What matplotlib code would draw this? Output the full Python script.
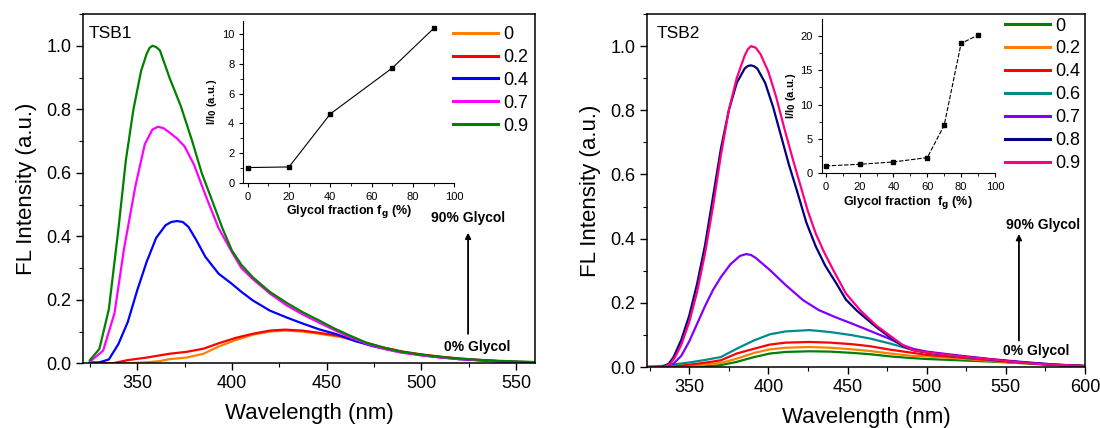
import matplotlib.pyplot as plt
from matplotlib.ticker import MultipleLocator

plt.rcParams['font.family'] = ['Liberation Sans', 'DejaVu Sans']

# ---- TSB1 spectra ----
tsb1_labels = ['0', '0.2', '0.4', '0.7', '0.9']
tsb1_colors = ['#FF8000', '#FF0000', '#0000FF', '#FF00FF', '#008000']

wl1_00 = [325, 345, 355, 362, 367, 376, 385, 393, 402, 411, 420, 428, 437, 446, 457, 470, 480, 490, 500, 510, 520, 530, 540, 550, 560]
fl1_00 = [0.0, 0.0, 0.003, 0.007, 0.013, 0.018, 0.03, 0.053, 0.073, 0.09, 0.1, 0.103, 0.1, 0.093, 0.083, 0.064, 0.049, 0.036, 0.027, 0.02, 0.014, 0.01, 0.007, 0.004, 0.002]

wl1_02 = [325, 330, 337, 345, 355, 367, 376, 385, 393, 402, 411, 420, 428, 437, 446, 457, 470, 480, 490, 500, 510, 520, 530, 540, 550, 560]
fl1_02 = [0.004, 0.001, 0.0, 0.01, 0.018, 0.03, 0.036, 0.046, 0.063, 0.08, 0.093, 0.103, 0.106, 0.103, 0.096, 0.086, 0.066, 0.05, 0.037, 0.028, 0.021, 0.015, 0.011, 0.007, 0.004, 0.002]

wl1_04 = [325, 330, 335, 340, 345, 350, 355, 360, 365, 368, 371, 374, 377, 381, 386, 393, 400, 405, 411, 420, 429, 437, 446, 455, 465, 475, 485, 495, 505, 520, 540, 560]
fl1_04 = [0.0, 0.003, 0.012, 0.06, 0.13, 0.23, 0.32, 0.395, 0.435, 0.445, 0.448, 0.445, 0.43, 0.39, 0.335, 0.282, 0.25, 0.225, 0.198, 0.166, 0.144, 0.126, 0.107, 0.092, 0.07, 0.053, 0.04, 0.03, 0.022, 0.013, 0.006, 0.002]

wl1_07 = [325, 332, 338, 343, 349, 354, 358, 361, 364, 367, 371, 375, 380, 386, 393, 400, 405, 411, 420, 429, 437, 446, 454, 462, 471, 480, 489, 500, 510, 520, 530, 540, 550, 560]
fl1_07 = [0.005, 0.04, 0.158, 0.36, 0.557, 0.69, 0.736, 0.745, 0.74, 0.727, 0.708, 0.683, 0.625, 0.53, 0.425, 0.35, 0.3, 0.265, 0.22, 0.182, 0.155, 0.128, 0.105, 0.083, 0.062, 0.046, 0.034, 0.025, 0.018, 0.013, 0.01, 0.007, 0.005, 0.003]

wl1_09 = [325, 330, 335, 340, 344, 348, 352, 355, 356.5, 358, 360, 362, 367, 373, 379, 384, 390, 395, 400, 405, 411, 420, 429, 437, 446, 454, 462, 471, 480, 489, 500, 510, 520, 530, 540, 550, 560]
fl1_09 = [0.01, 0.045, 0.17, 0.42, 0.64, 0.8, 0.92, 0.975, 0.993, 1.0, 0.996, 0.985, 0.9, 0.81, 0.7, 0.6, 0.505, 0.425, 0.355, 0.31, 0.271, 0.225, 0.19, 0.162, 0.135, 0.11, 0.088, 0.065, 0.049, 0.037, 0.027, 0.02, 0.015, 0.011, 0.008, 0.006, 0.004]

# ---- TSB2 spectra ----
tsb2_labels = ['0', '0.2', '0.4', '0.6', '0.7', '0.8', '0.9']
tsb2_colors = ['#008000', '#FF8000', '#FF0000', '#008B8B', '#8000FF', '#000080', '#FF0080']

wl2_00 = [324, 345, 355, 365, 370, 380, 391, 401, 411, 426, 439, 453, 464, 477, 490, 500, 520, 540, 560, 580, 600]
fl2_00 = [0.0, 0.0, 0.001, 0.004, 0.006, 0.016, 0.031, 0.042, 0.047, 0.049, 0.048, 0.044, 0.04, 0.033, 0.028, 0.025, 0.021, 0.017, 0.012, 0.006, 0.003]

wl2_02 = [324, 340, 350, 360, 370, 380, 391, 401, 411, 426, 439, 453, 464, 477, 490, 500, 520, 540, 560, 580, 600]
fl2_02 = [0.0, 0.0, 0.003, 0.008, 0.0125, 0.026, 0.044, 0.055, 0.06, 0.0625, 0.06, 0.055, 0.05, 0.042, 0.035, 0.033, 0.027, 0.019, 0.013, 0.007, 0.003]

wl2_04 = [324, 335, 345, 355, 365, 370, 380, 391, 401, 411, 426, 439, 453, 464, 477, 490, 500, 520, 540, 560, 580, 600]
fl2_04 = [0.0, 0.0, 0.005, 0.01, 0.017, 0.021, 0.042, 0.057, 0.07, 0.076, 0.078, 0.076, 0.071, 0.065, 0.054, 0.045, 0.038, 0.03, 0.021, 0.014, 0.007, 0.003]

wl2_06 = [324, 330, 340, 350, 360, 370, 380, 391, 401, 411, 426, 439, 453, 464, 477, 490, 500, 520, 540, 560, 580, 600]
fl2_06 = [0.0, 0.002, 0.008, 0.014, 0.022, 0.031, 0.057, 0.083, 0.102, 0.111, 0.115, 0.109, 0.099, 0.089, 0.073, 0.055, 0.045, 0.033, 0.023, 0.015, 0.008, 0.003]

wl2_07 = [324, 335, 340, 345, 350, 355, 360, 365, 370, 376, 382, 386, 389, 392, 401, 411, 422, 432, 443, 453, 464, 476, 485, 492, 500, 510, 520, 540, 560, 580, 600]
fl2_07 = [0.0, 0.0, 0.01, 0.035, 0.08, 0.135, 0.19, 0.24, 0.28, 0.32, 0.346, 0.352, 0.349, 0.34, 0.302, 0.255, 0.208, 0.177, 0.154, 0.135, 0.113, 0.089, 0.068, 0.056, 0.048, 0.042, 0.036, 0.025, 0.016, 0.008, 0.003]

wl2_08 = [324, 333, 337, 340, 345, 350, 355, 360, 365, 370, 375, 380, 385, 387, 389, 391, 393, 398, 403, 408, 413, 418, 424, 430, 436, 443, 449, 456, 462, 468, 477, 485, 492, 500, 510, 520, 540, 560, 580, 600]
fl2_08 = [0.0, 0.0, 0.01, 0.03, 0.085, 0.16, 0.26, 0.38, 0.53, 0.68, 0.8, 0.885, 0.93, 0.938, 0.94, 0.937, 0.93, 0.885, 0.81, 0.72, 0.63, 0.55, 0.45, 0.375, 0.315, 0.26, 0.21, 0.175, 0.15, 0.125, 0.092, 0.065, 0.052, 0.046, 0.04, 0.034, 0.024, 0.014, 0.007, 0.003]

wl2_09 = [324, 334, 338, 341, 345, 350, 355, 360, 365, 370, 375, 380, 385, 387, 389, 392, 395, 400, 405, 410, 415, 420, 425, 430, 435, 441, 449, 458, 468, 477, 485, 492, 500, 510, 520, 530, 540, 550, 560, 570, 580, 590, 600]
fl2_09 = [0.0, 0.0, 0.01, 0.03, 0.07, 0.14, 0.235, 0.355, 0.5, 0.66, 0.8, 0.9, 0.97, 0.99, 1.0, 0.995, 0.975, 0.92, 0.84, 0.745, 0.655, 0.57, 0.485, 0.415, 0.36, 0.302, 0.229, 0.177, 0.13, 0.097, 0.068, 0.052, 0.046, 0.04, 0.034, 0.029, 0.024, 0.019, 0.014, 0.01, 0.007, 0.005, 0.003]

# ---- insets: I/I0 vs glycol fraction ----
fg1 = [0, 20, 40, 70, 90]
ratio1 = [1.02, 1.06, 4.63, 7.72, 10.38]
fg2 = [0, 20, 40, 60, 70, 80, 90]
ratio2 = [1.07, 1.31, 1.65, 2.28, 6.99, 18.9, 20.1]

tsb1 = [(wl1_00, fl1_00), (wl1_02, fl1_02), (wl1_04, fl1_04), (wl1_07, fl1_07), (wl1_09, fl1_09)]
tsb2 = [(wl2_00, fl2_00), (wl2_02, fl2_02), (wl2_04, fl2_04), (wl2_06, fl2_06),
        (wl2_07, fl2_07), (wl2_08, fl2_08), (wl2_09, fl2_09)]


def style_main(ax, xlim, xticks):
    ax.set_xlim(*xlim)
    ax.set_ylim(0, 1.1)
    ax.set_xticks(xticks)
    ax.set_yticks([0, 0.2, 0.4, 0.6, 0.8, 1.0])
    ax.set_yticklabels(['0.0', '0.2', '0.4', '0.6', '0.8', '1.0'])
    ax.xaxis.set_minor_locator(MultipleLocator(25))
    ax.yaxis.set_minor_locator(MultipleLocator(0.1))
    ax.tick_params(which='major', direction='out', length=5, width=1, labelsize=13)
    ax.tick_params(which='minor', direction='out', length=3, width=0.8)
    for s in ax.spines.values():
        s.set_linewidth(1.1)
    ax.set_xlabel('Wavelength (nm)', fontsize=16, labelpad=8)
    ax.set_ylabel('FL Intensity (a.u.)', fontsize=16, labelpad=7)


def style_inset(ax, xlim, ylim, yticks, yminor, xlabel):
    ax.set_xlim(*xlim)
    ax.set_ylim(*ylim)
    ax.set_xticks([0, 20, 40, 60, 80, 100])
    ax.set_yticks(yticks)
    ax.xaxis.set_minor_locator(MultipleLocator(10))
    ax.yaxis.set_minor_locator(MultipleLocator(yminor))
    ax.tick_params(which='major', direction='out', length=3, width=0.8, labelsize=8)
    ax.tick_params(which='minor', direction='out', length=2, width=0.6)
    ax.spines['top'].set_visible(False)
    ax.spines['right'].set_visible(False)
    ax.patch.set_alpha(0)
    ax.set_xlabel(xlabel, fontsize=9, fontweight='bold', labelpad=1)
    ax.set_ylabel('I/I$_\\mathbf{0}$ (a.u.)', fontsize=8, fontweight='bold', labelpad=2)


fig = plt.figure(figsize=(11, 4.28), dpi=100)
ax1 = fig.add_axes([0.0757, 0.1512, 0.4106, 0.8161])
ax2 = fig.add_axes([0.5886, 0.1425, 0.3977, 0.8248])

for (x, y), c, lab in zip(tsb1, tsb1_colors, tsb1_labels):
    ax1.plot(x, y, color=c, lw=1.6, label=lab)
for (x, y), c, lab in zip(tsb2, tsb2_colors, tsb2_labels):
    ax2.plot(x, y, color=c, lw=1.6, label=lab)

style_main(ax1, (321.5, 560), [350, 400, 450, 500, 550])
style_main(ax2, (323.6, 600), [350, 400, 450, 500, 550, 600])

for ax, anchor in [(ax1, (0.818, 0.966)), (ax2, (0.817, 0.99))]:
    leg = ax.legend(loc='upper left', bbox_to_anchor=anchor, frameon=False, fontsize=13,
                    handlelength=2.5, handletextpad=0.3, labelspacing=0.33,
                    borderpad=0, borderaxespad=0)
    for h in leg.get_lines():
        h.set_linewidth(2.2)

ax1.text(0.012, 0.965, 'TSB1', transform=ax1.transAxes, fontsize=12.5, va='top', ha='left')
ax2.text(0.02, 0.965, 'TSB2', transform=ax2.transAxes, fontsize=12.5, va='top', ha='left')

# arrows and glycol labels
ax1.annotate('', xy=(524.7, 0.42), xytext=(524.7, 0.084),
             arrowprops=dict(arrowstyle='-|>', color='black', lw=1.3, mutation_scale=8))
ax1.text(524.7, 0.457, '90% Glycol', fontsize=10, fontweight='bold', ha='center', va='center')
ax1.text(529.3, 0.052, '0% Glycol', fontsize=10, fontweight='bold', ha='center', va='center')

ax2.annotate('', xy=(558.3, 0.423), xytext=(558.3, 0.074),
             arrowprops=dict(arrowstyle='-|>', color='black', lw=1.3, mutation_scale=8))
ax2.text(573.3, 0.444, '90% Glycol', fontsize=10, fontweight='bold', ha='center', va='center')
ax2.text(569.3, 0.051, '0% Glycol', fontsize=10, fontweight='bold', ha='center', va='center')

# insets
in1 = fig.add_axes([0.2212, 0.5731, 0.1918, 0.3785])
in1.plot(fg1, ratio1, color='black', lw=0.8, marker='s', ms=2.5)
style_inset(in1, (-2.1, 100), (0, 10.9), [0, 2, 4, 6, 8, 10], 1,
            'Glycol fraction f$_\\mathbf{g}$ (%)')

in2 = fig.add_axes([0.747, 0.5951, 0.1575, 0.3598])
in2.plot(fg2, ratio2, color='black', lw=0.8, ls=(0, (4, 1.5)), marker='s', ms=2.5)
style_inset(in2, (-2.4, 100), (0, 22.4), [0, 5, 10, 15, 20], 2.5,
            'Glycol fraction  f$_\\mathbf{g}$ (%)')

fig.savefig('out.png', dpi=100)
